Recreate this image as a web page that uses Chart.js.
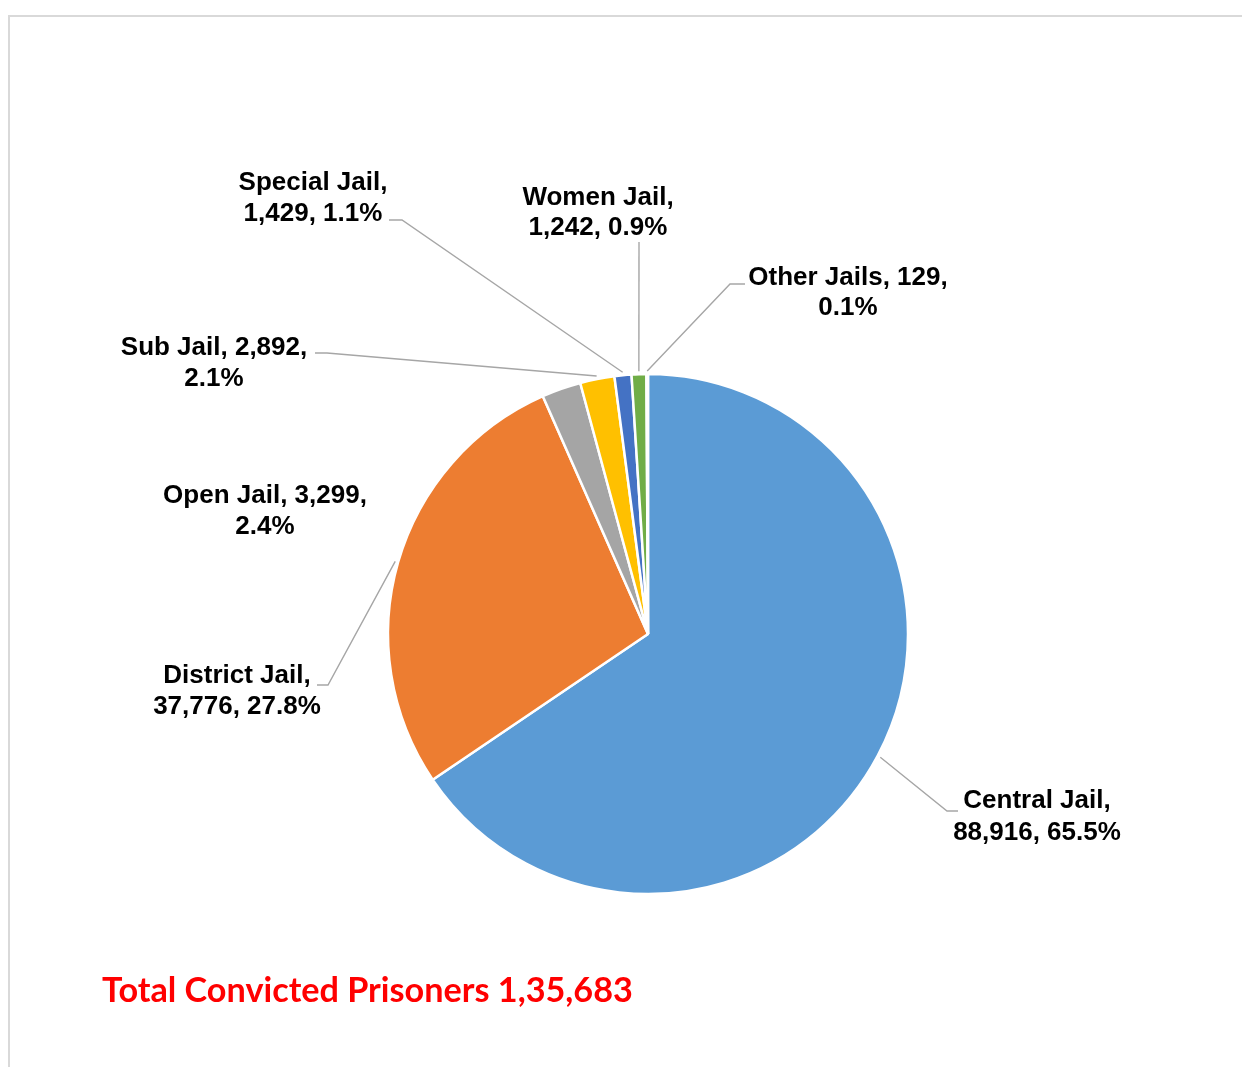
<!DOCTYPE html>
<html>
<head>
<meta charset="utf-8">
<script src="https://cdn.jsdelivr.net/npm/chart.js@4/dist/chart.umd.min.js"></script>
<style>
  html, body { margin: 0; padding: 0; background: #fff; }
  #wrap { position: relative; width: 1242px; height: 1067px; overflow: hidden; }
  #frame { position: absolute; left: 8px; top: 15px; width: 1300px; height: 1100px;
           border-left: 2px solid #d9d9d9; border-top: 2px solid #d9d9d9; box-sizing: border-box; }
  #c { position: absolute; left: 0; top: 0; }
</style>
</head>
<body>
<div id="wrap">
  <div id="frame"></div>
  <canvas id="c" width="1242" height="1067"></canvas>
</div>
<script>
// ---- data ----
const categories = ['Central Jail', 'District Jail', 'Open Jail', 'Sub Jail', 'Special Jail', 'Women Jail', 'Other Jails'];
const prisoners = [88916, 37776, 3299, 2892, 1429, 1242, 129];
const sliceColors = ['#5B9BD5', '#ED7D31', '#A5A5A5', '#FFC000', '#4472C4', '#70AD47', '#255E91'];
const totalCaption = 'Total Convicted Prisoners';

// ---- label layout (positions of label text and leader elbows) ----
const labelLayout = [
  { cx: 1037, y: 808, gap: 32, split: 1, elbow: [947, 811], end: [958, 811] },
  { cx: 237,  y: 683, gap: 31, split: 1, elbow: [328, 685], end: [317, 685] },
  { cx: 265,  y: 503, gap: 31, split: 2, elbow: null, end: null },
  { cx: 214,  y: 355, gap: 31, split: 2, elbow: [327, 353], end: [315, 353] },
  { cx: 313,  y: 190, gap: 31, split: 1, elbow: [402, 220], end: [389, 220] },
  { cx: 598,  y: 205, gap: 30, split: 1, elbow: [639, 242], end: null },
  { cx: 848,  y: 285, gap: 30, split: 2, elbow: [730, 284], end: [745, 284] }
];

const total = prisoners.reduce((a, b) => a + b, 0);
function fmtUS(v) { return v.toLocaleString('en-US'); }
function fmtIN(v) {
  try { return v.toLocaleString('en-IN'); } catch (e) { return fmtUS(v); }
}

const labelPlugin = {
  id: 'labelPlugin',
  afterDatasetsDraw(chart) {
    const ctx = chart.ctx;
    const meta = chart.getDatasetMeta(0);
    ctx.save();
    // leader lines
    ctx.strokeStyle = '#a6a6a6';
    ctx.lineWidth = 1.4;
    meta.data.forEach((arc, i) => {
      const L = labelLayout[i];
      if (!L.elbow) return;
      const p = arc.getProps(['x', 'y', 'startAngle', 'endAngle', 'outerRadius'], true);
      const mid = (p.startAngle + p.endAngle) / 2;
      const r = p.outerRadius + 3;
      const sx = p.x + Math.cos(mid) * r;
      const sy = p.y + Math.sin(mid) * r;
      ctx.beginPath();
      ctx.moveTo(sx, sy);
      ctx.lineTo(L.elbow[0], L.elbow[1]);
      if (L.end) ctx.lineTo(L.end[0], L.end[1]);
      ctx.stroke();
    });
    // label text
    ctx.fillStyle = '#000';
    ctx.font = 'bold 26px "Liberation Sans", Arial, sans-serif';
    ctx.textAlign = 'center';
    ctx.textBaseline = 'alphabetic';
    categories.forEach((cat, i) => {
      const L = labelLayout[i];
      const pct = (prisoners[i] / total * 100).toFixed(1) + '%';
      const parts = [cat, fmtUS(prisoners[i]), pct];
      const line1 = parts.slice(0, L.split).join(', ') + ',';
      const line2 = parts.slice(L.split).join(', ');
      ctx.fillText(line1, L.cx, L.y);
      ctx.fillText(line2, L.cx, L.y + L.gap);
    });
    // total caption
    const txt = totalCaption + ' ' + fmtIN(total);
    ctx.fillStyle = '#FF0000';
    ctx.textAlign = 'left';
    let size = 32;
    ctx.font = 'bold ' + size + 'px Lato, "Open Sans", sans-serif';
    const w = ctx.measureText(txt).width;
    size = size * 531 / w;
    ctx.font = 'bold ' + size.toFixed(2) + 'px Lato, "Open Sans", sans-serif';
    ctx.fillText(txt, 102, 1002);
    ctx.restore();
  }
};

new Chart(document.getElementById('c'), {
  type: 'pie',
  data: {
    labels: categories,
    datasets: [{
      data: prisoners,
      backgroundColor: sliceColors,
      borderColor: '#ffffff',
      borderWidth: 2.5,
      radius: 260
    }]
  },
  options: {
    responsive: false,
    animation: false,
    layout: { padding: { left: 54, right: 0, top: 201, bottom: 0 } },
    plugins: { legend: { display: false }, tooltip: { enabled: false }, title: { display: false } }
  },
  plugins: [labelPlugin]
});
</script>
</body>
</html>
